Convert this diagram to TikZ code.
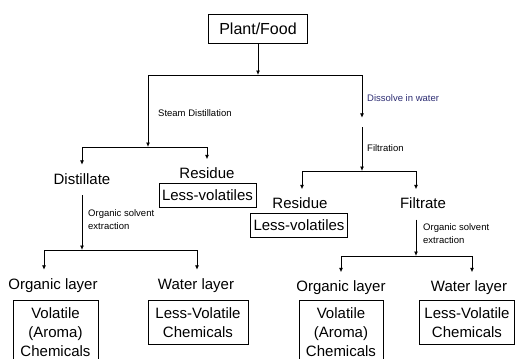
\documentclass[tikz,border=0pt]{standalone}
\usepackage{fontspec}
\setmainfont{Liberation Sans}
\usetikzlibrary{positioning}
\usetikzlibrary{arrows.meta}
\definecolor{navy}{RGB}{45,45,115}

\tikzset{
  arr/.style={-{Latex[length=4.5pt,width=4pt]}, line width=0.85pt},
  lbl/.style={font=\fontsize{15}{18}\selectfont, inner xsep=0pt, inner ysep=8pt,
    text height=11pt, text depth=3pt, anchor=base},
  small/.style={font=\fontsize{9.5}{13}\selectfont, anchor=west, align=left, inner sep=0pt},
  resbox/.style={draw, line width=0.85pt, font=\fontsize{15}{19}\selectfont, align=center,
    anchor=north, inner xsep=3pt, inner ysep=7pt}
}

\begin{document}
\begin{tikzpicture}[x=1pt, y=-1pt]
    \useasboundingbox (0,0) rectangle (531,359);

    % start
    \node[draw, line width=0.85pt, font=\fontsize{16}{19}\selectfont, minimum width=99pt,
      minimum height=29pt, inner sep=0pt] (plant) at (258,28.5) {Plant/Food};
    \coordinate (split) at (258,75);
    \coordinate (stm) at (148,147);
    \node[inner sep=0pt, minimum size=9pt] (sol) at (362,122.5) {};
    \coordinate (filt) at (362,171);

    \draw[arr] (plant) -- (split);
    \draw[arr] (split) -| (stm);
    \draw[arr] (split) -| (sol.north);
    \draw[arr] (sol.south) -- (filt);

    \node[small] (stdist) at (158,113) {Steam Distillation};
    \node[small, navy] (dissolve) at (367,98) {Dissolve in water};
    \node[small] (filtr) at (367,148) {Filtration};

    % steam distillation side
    \node[lbl] (distil) at (82,184) {Distillate};
    \node[lbl] (resL) at (207,178.5) {Residue};
    \node[resbox, minimum width=97pt, minimum height=24pt, inner ysep=0pt] (lvL) at (207.5,183) {Less-volatiles};
    \draw[arr] (stm) -| (distil.north);
    \draw[arr] (stm) -| (resL.north);

    \coordinate (oseL) at (82,250);
    \draw[arr] (distil.south) -- (oseL);
    \node[small] (oseLtxt) at (88,219.5) {Organic solvent\\extraction};

    \node[lbl] (orgL) at (53,289) {Organic layer};
    \node[lbl] (watL) at (196,289) {Water layer};
    \draw[arr] (oseL) -| ([xshift=-9pt]orgL.north);
    \draw[arr] (oseL) -| ([xshift=1pt]watL.north);

    \node[resbox, minimum width=85pt] (volL) at (55.5,300) {Volatile\\(Aroma)\\Chemicals};
    \node[resbox, minimum width=100pt] (lvcL) at (198,300) {Less-Volatile\\Chemicals};

    % water side
    \node[lbl] (resR) at (300,208.5) {Residue};
    \node[lbl] (filtrate) at (423,208.5) {Filtrate};
    \node[resbox, minimum width=96pt, minimum height=24pt, inner ysep=0pt] (lvR) at (299,213) {Less-volatiles};
    \draw[arr] (filt) -| ([xshift=2pt]resR.north);
    \draw[arr] (filt) -| ([xshift=-7pt]filtrate.north);

    \coordinate (oseR) at (416,256);
    \draw[arr] ([xshift=-7pt]filtrate.south) -- (oseR);
    \node[small] (oseRtxt) at (423,233.5) {Organic solvent\\extraction};

    \node[lbl] (orgR) at (341,291.5) {Organic layer};
    \node[lbl] (watR) at (469,291.5) {Water layer};
    \draw[arr] (oseR) -| (orgR.north);
    \draw[arr] (oseR) -| ([xshift=3pt]watR.north);

    \node[resbox, minimum width=84pt] (volR) at (341,300) {Volatile\\(Aroma)\\Chemicals};
    \node[resbox, minimum width=95pt] (lvcR) at (467,300) {Less-Volatile\\Chemicals};
\end{tikzpicture}
\end{document}
